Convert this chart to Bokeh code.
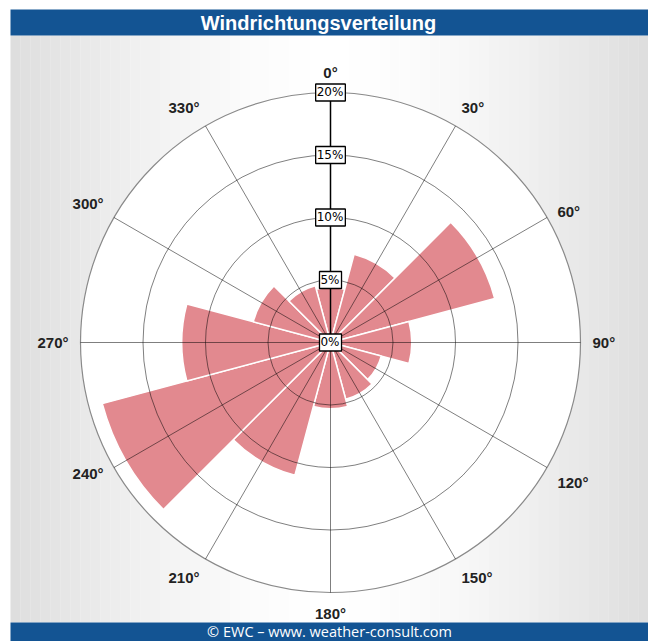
import numpy as np
from bokeh.plotting import figure
from bokeh.models import Range1d, ColumnDataSource
from bokeh.core.properties import value
from bokeh.embed import file_html
from bokeh.resources import INLINE

# ---- data ----
directions = [0, 30, 60, 90, 120, 150, 180, 210, 240, 270, 300, 330]
frequency = [4.4, 7.3, 13.6, 6.5, 4.2, 4.7, 5.3, 11.0, 18.9, 11.9, 6.4, 4.7]
ring_ticks = [0, 5, 10, 15, 20]
ring_labels = ["0%", "5%", "10%", "15%", "20%"]
angle_labels = ["0°", "30°", "60°", "90°", "120°", "150°", "180°", "210°",
                "240°", "270°", "300°", "330°"]
title_text = "Windrichtungsverteilung"
footer_text = "© EWC – www. weather-consult.com"

# label placement styles (per direction)
label_align = ["center", "left", "left", "left", "left", "left",
               "center", "right", "right", "right", "right", "right"]
label_baseline = ["bottom", "bottom", "middle", "middle", "top", "top",
                  "top", "top", "middle", "middle", "bottom", "bottom"]

# ---- layout (pixels) ----
W, H = 648, 641
PX = 12.5            # pixels per percent
CX, CY = 330, 342    # centre in figure pixels (from top-left)
def dx(px):  # figure pixel x -> data
    return (px - CX) / PX
def dy(py):  # figure pixel y (from top) -> data
    return (CY - py) / PX

p = figure(width=W, height=H, output_backend="svg", toolbar_location=None,
           x_range=Range1d(dx(0), dx(W)), y_range=Range1d(dy(H), dy(0)),
           x_axis_type=None, y_axis_type=None, min_border=0)
p.outline_line_color = None
p.grid.visible = False
p.background_fill_color = "white"
p.border_fill_color = "white"

# background gradient strips
n = 64
xs = np.linspace(10, W, n + 1)
lefts, rights, cols = [], [], []
for i in range(n):
    xm = 0.5 * (xs[i] + xs[i + 1])
    d = min(abs(xm - CX) / 320.0, 1.0)
    g = int(round(255 - 34 * d ** 1.6))
    lefts.append(dx(xs[i]))
    rights.append(dx(xs[i + 1]) + 0.02)
    cols.append("#%02x%02x%02x" % (g, g, g))
p.quad(left=lefts, right=rights, top=dy(35), bottom=dy(622), fill_color=cols,
       line_color=None)

# title & footer bars
p.quad(left=dx(10), right=dx(W), top=dy(9), bottom=dy(35), fill_color="#135493",
       line_color=None)
p.quad(left=dx(10), right=dx(W), top=dy(622), bottom=dy(H), fill_color="#135493",
       line_color=None)
p.text(x=[dx(318)], y=[dy(22)], text=[title_text], text_color="white",
       text_font=value("Liberation Sans"), text_font_size="20px",
       text_font_style="bold", text_align="center", text_baseline="middle")
p.text(x=[dx(329)], y=[dy(631)], text=[footer_text], text_color="white",
       text_font=value("Open Sans"), text_font_size="14.5px",
       text_align="center", text_baseline="middle")

rmax = ring_ticks[-1]
# white polar disc
p.circle(x=[0], y=[0], radius=rmax, fill_color="white", line_color=None)

# wedges (bearing clockwise from north -> math angle)
half = 15
src = ColumnDataSource(dict(
    r=frequency,
    start=[np.deg2rad(90 - (b + half)) for b in directions],
    end=[np.deg2rad(90 - (b - half)) for b in directions],
))
p.wedge(x=0, y=0, radius="r", start_angle="start", end_angle="end", source=src,
        fill_color="#e2898f", line_color="white", line_width=1.5)

# rings
p.circle(x=[0] * 3, y=[0] * 3, radius=ring_ticks[1:-1], fill_color=None,
         line_color="black", line_alpha=0.5, line_width=1)
p.circle(x=[0], y=[0], radius=rmax, fill_color=None, line_color="#8a8a8a",
         line_width=1.2)

# spokes
for b in directions:
    a = np.deg2rad(90 - b)
    if b == 0:
        continue
    p.line([0, rmax * np.cos(a)], [0, rmax * np.sin(a)], line_color="black",
           line_alpha=0.5, line_width=1)
p.line([0, 0], [0, rmax], line_color="black", line_width=1.5)

# ring labels
p.text(x=[0] * len(ring_ticks), y=ring_ticks, text=ring_labels,
       text_font=value("DejaVu Sans"), text_font_size="12px",
       text_color="black", text_align="center", text_baseline="middle",
       background_fill_color="white", border_line_color="black",
       border_line_width=1.3, padding=[1, 2, 1, 2])

# angle labels
R_LABEL = 262 / PX
for b, lab, al, bl in zip(directions, angle_labels, label_align, label_baseline):
    a = np.deg2rad(90 - b)
    p.text(x=[R_LABEL * np.cos(a)], y=[R_LABEL * np.sin(a)], text=[lab],
           text_font=value("Liberation Sans"), text_font_size="15px",
           text_font_style="bold", text_color="#222222",
           text_align=al, text_baseline=bl)

open("out.html", "w").write(file_html(p, INLINE))
